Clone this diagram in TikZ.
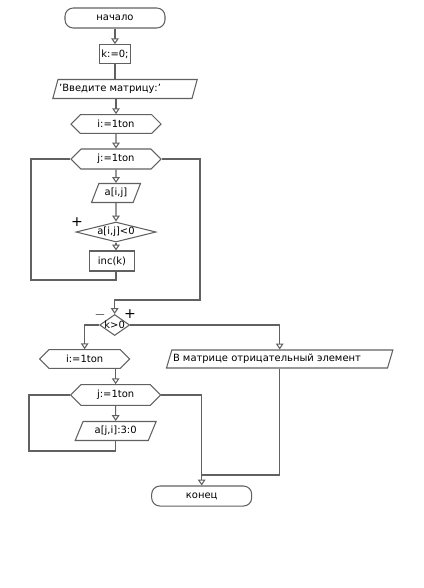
\documentclass[tikz,border=0pt]{standalone}
\usepackage{fontspec}
\setmainfont{DejaVu Sans}
\usepackage{tikz}
\usetikzlibrary{shapes.geometric, shapes.symbols, arrows.meta}
\colorlet{linegray}{black!62}
\tikzstyle{term} = [rectangle, draw=linegray, line width=0.9pt, rounded corners=7pt, minimum width=3cm, minimum height=0.6cm]
\tikzstyle{proc} = [rectangle, draw=linegray, line width=0.9pt, minimum height=0.56cm, inner sep=2pt]
\tikzstyle{io} = [trapezium, trapezium left angle=66, trapezium right angle=114, trapezium stretches=true, draw=linegray, line width=0.9pt, minimum height=0.57cm, inner sep=1pt]
\tikzstyle{loop} = [signal, signal to=west and east, draw=linegray, line width=0.9pt, minimum width=2.7cm, minimum height=0.56cm, inner sep=1pt]
\tikzstyle{cond} = [diamond, draw=linegray, line width=0.9pt, aspect=4, inner sep=0pt]
\tikzstyle{blank} = [inner sep=0,outer sep=0]
\tikzstyle{line} = [draw=linegray, line width=0.9pt, -{Triangle[open,width=6.5pt,length=5pt]}]
\tikzstyle{wire} = [draw=linegray, line width=0.9pt]

\begin{document}
\begin{tikzpicture}[x=0.03cm, y=-0.03cm, node distance=1.05cm, font=\fontsize{8.5}{10}\selectfont]
\useasboundingbox (0,0) rectangle (424,588);

\node [term] (start) at (115,18) {начало};
\node [proc, below of=start, yshift=-0.03cm] (k) {k:=0;};
\node [io, below of=k, xshift=0.3cm] (inp) {\makebox[3.95cm][l]{'Введите матрицу:'}};
\node [loop, below of=inp, xshift=-0.27cm] (i) {i:=1ton};
\node [loop, below of=i, minimum height=0.6cm] (j) {j:=1ton};
\node [io, below of=j, yshift=0.03cm, minimum width=1.47cm] (aij) {a[i,j]};
\node [cond, below of=aij, yshift=-0.12cm, minimum width=2.4cm, minimum height=0.6cm] (cmp) {a[i,j]<0};
\node [proc, below of=cmp, yshift=0.18cm, xshift=-0.12cm, minimum width=1.35cm, minimum height=0.6cm] (inc) {inc(k)};

\node [cond, below of=inc, yshift=-0.87cm, xshift=0.08cm, aspect=1.4, inner sep=-2pt, minimum width=0.9cm, minimum height=0.63cm] (chk) {k>0};
\node [loop, below of=chk, xshift=-0.9cm, yshift=0.03cm] (i2) {i:=1ton};
\node [io, below of=chk, xshift=4.95cm, yshift=0.03cm, minimum height=0.54cm] (out) {\makebox[6.4cm][l]{В матрице отрицательный элемент}};
\node [loop, below of=i2, xshift=0.93cm, yshift=-0.03cm, minimum height=0.62cm] (j2) {j:=1ton};
\node [io, below of=j2, yshift=-0.03cm, minimum width=2.43cm] (aji) {a[j,i]:3:0};
\node [term, below of=aji, xshift=2.58cm, yshift=-0.9cm] (end) {конец};

\node [blank, font=\fontsize{12}{12}\selectfont] (plus1) at (77,222) {+};
\node [blank, font=\fontsize{12}{12}\selectfont] (minus) at (100,315) {$-$};
\node [blank, font=\fontsize{12}{12}\selectfont] (plus2) at (130,314) {+};

\coordinate (jl) at (31,280);
\coordinate (jr) at (200,300);
\coordinate (al) at (29,451);
\coordinate (ob) at (281,475);

\path [line] (start) -- (k);
\path [wire] (k.south) -- (k.south |- inp.north);
\path [line] (i.north |- inp.south) -- (i.north);
\path [line] (i) -- (j);
\path [line] (j) -- (aij);
\path [line] (aij) -- (cmp);
\path [line] (cmp.south) -- (cmp.south |- inc.north);
\path [wire] (cmp.south |- inc.south) -- (cmp.south |- jl) -- (jl) -- (jl |- j.west) -- (j.west);
\path [line] (j.east) -| (jr) -| (chk.north);

\path [line] (chk.west) -| (i2.north);
\path [line] (chk.east) -| (out.north);
\path [line] (j2.north |- i2.south) -- (j2.north);
\path [line] (j2) -- (aji);
\path [wire] (aji.south) -- (aji.south |- al) -- (al) -- (al |- j2.west) -- (j2.west);
\path [line] (j2.east) -| (end.north);
\path [wire] (out.south) |- (end.north |- ob);

\end{tikzpicture}
\end{document}
